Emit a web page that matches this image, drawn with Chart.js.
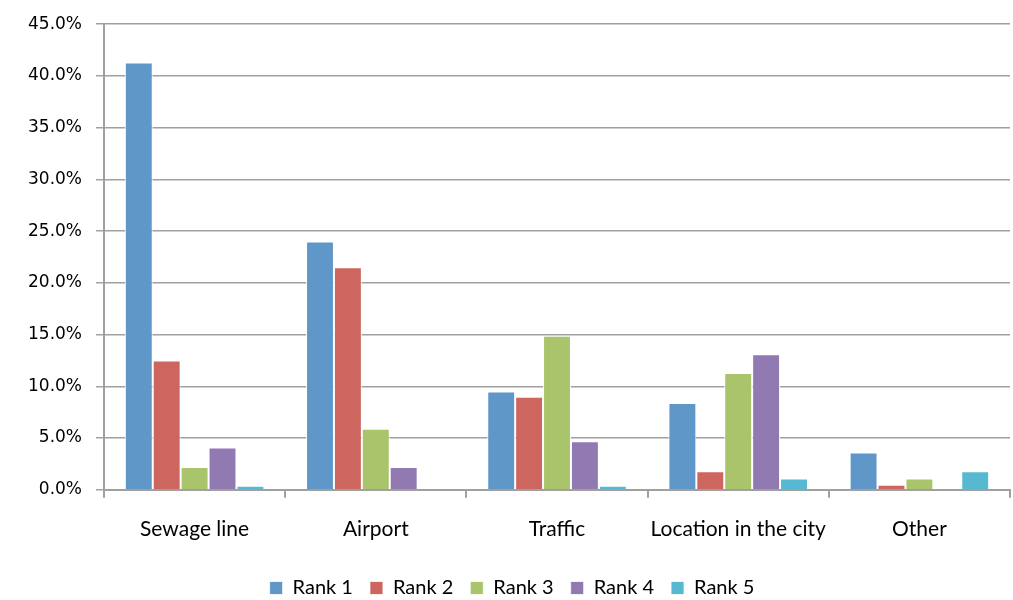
<!DOCTYPE html>
<html>
<head>
<meta charset="utf-8">
<script src="https://cdn.jsdelivr.net/npm/chart.js@4"></script>
<style>
  html, body { margin: 0; padding: 0; background: #fff; }
  #wrap { width: 1013px; height: 600px; }
</style>
</head>
<body>
<div id="wrap"><canvas id="chart" width="1013" height="600"></canvas></div>
<script>
const categories = ["Sewage line", "Airport", "Traffic", "Location in the city", "Other"];
const rank1 = [41.3, 24.0, 9.5, 8.4, 3.6];
const rank2 = [12.5, 21.5, 9.0, 1.8, 0.5];
const rank3 = [2.2, 5.9, 14.9, 11.3, 1.1];
const rank4 = [4.1, 2.2, 4.7, 13.1, 0];
const rank5 = [0.4, 0, 0.4, 1.1, 1.8];
const seriesNames = ["Rank 1", "Rank 2", "Rank 3", "Rank 4", "Rank 5"];
const colors = ["#6097C9", "#CD665F", "#A9C46A", "#9179B2", "#57B9D1"];

const series = [rank1, rank2, rank3, rank4, rank5];
const font = "Lato, 'Open Sans', sans-serif";

const ctx = document.getElementById("chart").getContext("2d");
new Chart(ctx, {
  type: "bar",
  data: {
    labels: categories,
    datasets: series.map((vals, i) => ({
      label: seriesNames[i],
      data: vals,
      backgroundColor: colors[i],
      borderColor: "#ffffff",
      borderWidth: { left: 1, right: 1, top: 1, bottom: 0 },
      categoryPercentage: 0.77,
      barPercentage: 1.0,
    })),
  },
  options: {
    responsive: false,
    animation: false,
    layout: { autoPadding: false, padding: { top: 11, right: 3, left: 14, bottom: -8 } },
    plugins: {
      tooltip: { enabled: false },
      legend: {
        position: "bottom",
        labels: {
          boxWidth: 13,
          boxHeight: 13,
          padding: 17,
          color: "#000",
          font: { family: font, size: 20 },
        },
      },
    },
    scales: {
      x: {
        offset: true,
        grid: {
          offset: true,
          drawOnChartArea: false,
          tickLength: 8,
          color: "#A0A0A0",
          lineWidth: 2,
        },
        border: { color: "#A0A0A0", width: 2 },
        ticks: {
          color: "#000",
          padding: 19,
          maxRotation: 0,
          minRotation: 0,
          autoSkip: false,
          font: { family: font, size: 21 },
        },
      },
      y: {
        min: 0,
        max: 45,
        grid: {
          color: "#A0A0A0",
          lineWidth: 1.5,
          tickLength: 8,
        },
        border: { color: "#A0A0A0", width: 2 },
        ticks: {
          stepSize: 5,
          color: "#000",
          padding: 14,
          font: { family: "'DejaVu Sans', sans-serif", size: 17 },
          callback: (v) => v.toFixed(1) + "%",
        },
      },
    },
  },
});
</script>
</body>
</html>
